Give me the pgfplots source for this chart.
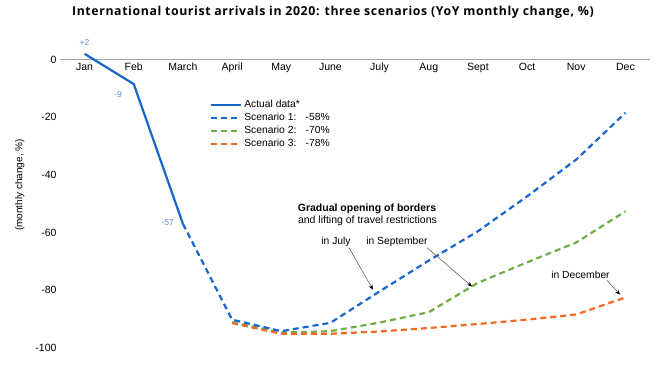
\documentclass[border=0pt]{standalone}
\usepackage{fontspec}
\setmainfont{Liberation Sans}
\newfontfamily\titlefont[LetterSpace=5]{Open Sans}
\usepackage{pgfplots}
\pgfplotsset{compat=1.18}
\usetikzlibrary{arrows.meta}
\definecolor{cblue}{RGB}{22,102,204}
\definecolor{cgreen}{RGB}{112,173,71}
\definecolor{corange}{RGB}{242,106,33}
\definecolor{clabel}{RGB}{95,140,212}
\begin{document}
\begin{tikzpicture}[x=1pt,y=1pt]
\path (0,0) rectangle (667,373);
\node[font=\titlefont\bfseries\fontsize{12.3}{14}\selectfont] at (333,361) {International tourist arrivals in 2020: three scenarios (YoY monthly change, \%)};
\begin{axis}[
  at={(60pt,11pt)}, anchor=south west,
  scale only axis, width=590pt, height=325.44pt,
  xmin=-0.5, xmax=11.5, ymin=-105, ymax=8,
  axis x line=middle, axis y line=left,
  axis line style={-},
  x axis line style={draw=gray!70},
  y axis line style={draw=none},
  hide obscured x ticks=false, hide obscured y ticks=false,
  major tick length=0pt,
  xtick={0,...,11},
  xticklabels={Jan,Feb,March,April,May,June,July,Aug,Sept,Oct,Nov,Dec},
  ytick={-100,-80,-60,-40,-20,0},
  yticklabels={-100,-80,-60,-40,-20,0},
  ticklabel style={font=\fontsize{10.5}{12}\selectfont},
  ylabel={(monthly change, \%)},
  ylabel style={font=\fontsize{10}{12}\selectfont},
  every axis y label/.style={at={(axis description cs:-0.068,0.544)}, rotate=90, anchor=center},
  clip=false,
  legend style={at={(axis description cs:0.249,0.817)}, anchor=north west,
    draw=none, fill=none, font=\fontsize{10.3}{12}\selectfont},
  legend cell align=left,
  legend image code/.code={\draw[#1] (0pt,0pt) -- (30pt,0pt);},
]
\addlegendimage{cblue, line width=2.2pt, solid}
\addlegendentry{Actual data*}
\addlegendimage{cblue, line width=2.2pt, dash pattern=on 6pt off 4pt}
\addlegendentry{Scenario 1:\hspace{0.9em}-58\%}
\addlegendimage{cgreen, line width=2.2pt, dash pattern=on 6pt off 4pt}
\addlegendentry{Scenario 2:\hspace{0.9em}-70\%}
\addlegendimage{corange, line width=2.2pt, dash pattern=on 6pt off 4pt}
\addlegendentry{Scenario 3:\hspace{0.9em}-78\%}

\addplot[forget plot, cgreen, line width=2.2pt, dash pattern=on 6pt off 4pt] coordinates {
 (3,-91.2) (4,-94.8) (5,-94.3) (6,-91.3) (7,-87.7) (8,-77.5) (9,-70.4) (10,-63.5) (11,-52.7)};
\addplot[forget plot, corange, line width=2.2pt, dash pattern=on 6pt off 4pt] coordinates {
 (3,-91.5) (4,-95.2) (5,-95.2) (6,-94.4) (7,-93.2) (8,-91.8) (9,-90.3) (10,-88.5) (11,-82.6)};
\addplot[forget plot, cblue, line width=2.2pt, dash pattern=on 6pt off 4pt] coordinates {
 (2,-57) (3,-90.3) (4,-94.3) (5,-91.4) (6,-80.5) (7,-69.8) (8,-59.6) (9,-47.5) (10,-34.7) (11,-18.5)};
\addplot[forget plot, cblue, line width=2.2pt] coordinates {
 (0,2) (1,-8.5) (2,-57)};

\node[clabel, font=\fontsize{8.5}{10}\selectfont] at (axis cs:0,5.9) {+2};
\node[clabel, font=\fontsize{8.5}{10}\selectfont] at (axis cs:0.68,-12.2) {-9};
\node[clabel, font=\fontsize{8.5}{10}\selectfont] at (axis cs:1.69,-56.6) {-57};

\node[font=\bfseries\fontsize{10.5}{12}\selectfont] at (axis cs:5.744,-51.7) {Gradual opening of borders};
\node[font=\fontsize{10.5}{12}\selectfont] at (axis cs:5.754,-55.9) {and lifting of travel restrictions};
\node[font=\fontsize{10.3}{12}\selectfont] at (axis cs:5.114,-63.2) {in July};
\node[font=\fontsize{10.3}{12}\selectfont] at (axis cs:6.354,-63.2) {in September};
\node[font=\fontsize{10.3}{12}\selectfont] at (axis cs:10.086,-74.7) {in December};
\draw[gray!60!black, line width=0.5pt, -{Stealth[black,length=5pt,width=4pt]}] (axis cs:5.378,-65.3) -- (axis cs:5.866,-79.9);
\draw[gray!60!black, line width=0.5pt, -{Stealth[black,length=5pt,width=4pt]}] (axis cs:6.964,-65.3) -- (axis cs:7.88,-78.8);
\draw[gray!60!black, line width=0.5pt, -{Stealth[black,length=5pt,width=4pt]}] (axis cs:10.625,-76.7) -- (axis cs:10.89,-81.6);
\end{axis}
\end{tikzpicture}
\end{document}
